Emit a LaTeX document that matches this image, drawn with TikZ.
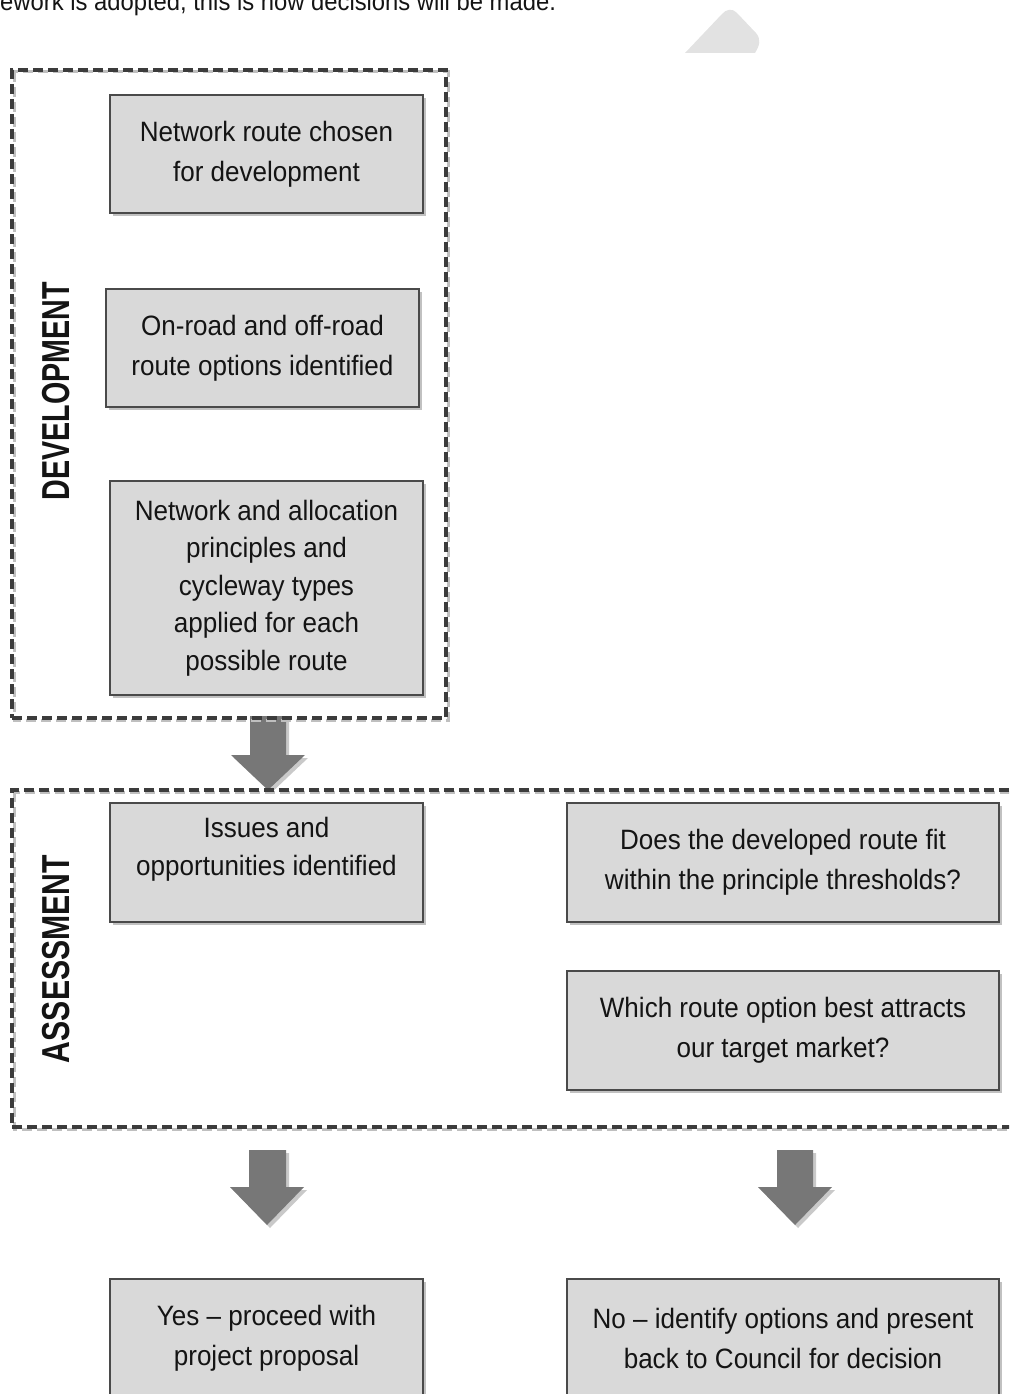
\documentclass[tikz,border=0pt]{standalone}
\usepackage{fontspec}
\setmainfont[FakeStretch=0.93]{Liberation Sans}
\newfontfamily\labelfont{Liberation Sans}
\usetikzlibrary{shadows}
\definecolor{boxfill}{HTML}{D9D9D9}
\definecolor{boxline}{HTML}{4A4A4A}
\definecolor{frameline}{HTML}{3C3C3C}
\definecolor{arrowfill}{HTML}{777777}
\definecolor{textc}{HTML}{141414}
\definecolor{blobfill}{HTML}{E2E2E2}
\begin{document}
\begin{tikzpicture}[x=1pt,y=-1pt,
  box/.style={draw=boxline, line width=1.4pt, fill=boxfill, align=center,
    inner sep=0pt, text=textc, font=\fontsize{28}{40}\selectfont,
    drop shadow={shadow xshift=3pt, shadow yshift=-3pt, opacity=0.35, fill=black!70}},
  bodytext/.style={align=center, inner sep=0pt, text=textc, font=\fontsize{28}{38}\selectfont},
  frame/.style={draw=frameline, line width=3.2pt, dash pattern=on 10pt off 5pt, inner sep=0pt},
  frameshadow/.style={draw=black!25, line width=3pt, dash pattern=on 10pt off 5pt},
  sidelabel/.style={rotate=90, inner sep=0pt, text=textc},
  blockarrow/.style={fill=arrowfill,
    drop shadow={shadow xshift=3pt, shadow yshift=-3pt, opacity=0.3, fill=black!70}}
]
\useasboundingbox (0,0) rectangle (1009,1394);
\clip (0,0) rectangle (1009,1394);

% top text (cut off)
\node[anchor=base west, inner sep=0pt, text=textc, font=\fontsize{25.6}{30}\selectfont] (intro) at (0,11) {ework is adopted, this is how decisions will be made.};

% light grey shape at top right
\fill[blobfill] (685,53) -- (722,14) .. controls (726,9) and (733,8) .. (737,13) -- (756,33) .. controls (761,39) and (760,45) .. (755,53) -- cycle;

% block arrows
\fill[blockarrow] (250,716) -- (286,716) -- (286,755) -- (305,755) -- (268,790) -- (231,755) -- (250,755) -- cycle;
\fill[blockarrow] (249,1150) -- (286,1150) -- (286,1187) -- (304,1187) -- (267,1225) -- (230,1187) -- (249,1187) -- cycle;
\fill[blockarrow] (777,1150) -- (813,1150) -- (813,1187) -- (832,1187) -- (795,1225) -- (758,1187) -- (777,1187) -- cycle;

% frames
\draw[frameshadow] (14,72) rectangle (448,720);
\draw[frameshadow] (14,792) rectangle (1030,1129);
\node[frame, minimum width=434pt, minimum height=648pt] (dev) at (229,394) {};
\node[frame, minimum width=1020pt, minimum height=337pt] (asm) at (522,958.5) {};

% side labels
\node[sidelabel] (devlabel) at (56,391) {\scalebox{0.735}[1]{\labelfont\bfseries\fontsize{39}{40}\selectfont DEVELOPMENT}};
\node[sidelabel] (asmlabel) at (56,959) {\scalebox{0.774}[1]{\labelfont\bfseries\fontsize{39}{40}\selectfont ASSESSMENT}};

% development boxes
\node[box, minimum width=313pt, minimum height=118pt] (route) at (266.5,154) {Network route chosen\\for development};
\node[box, minimum width=313pt, minimum height=118pt] (options) at (262.5,348) {On-road and off-road\\route options identified};
\node[box, minimum width=313pt, minimum height=214pt, font=\fontsize{28}{37.5}\selectfont] (principles) at (266.5,588) {Network and allocation\\principles and\\cycleway types\\applied for each\\possible route};

% assessment boxes
\node[box, minimum width=313pt, minimum height=119pt] (issues) at (266.5,862.5) {};
\node[bodytext] (issuestext) at (266.5,849) {Issues and\\opportunities identified};
\node[box, minimum width=432pt, minimum height=119pt] (fit) at (783,862.5) {Does the developed route fit\\within the principle thresholds?};
\node[box, minimum width=432pt, minimum height=119pt] (attract) at (783,1030.5) {Which route option best attracts\\our target market?};

% outcome boxes
\node[box, minimum width=313pt, minimum height=118pt] (yes) at (266.5,1338) {Yes -- proceed with\\project proposal};
\node[box, minimum width=432pt, minimum height=118pt] (no) at (783,1338) {No -- identify options and present\\back to Council for decision};
\end{tikzpicture}
\end{document}
